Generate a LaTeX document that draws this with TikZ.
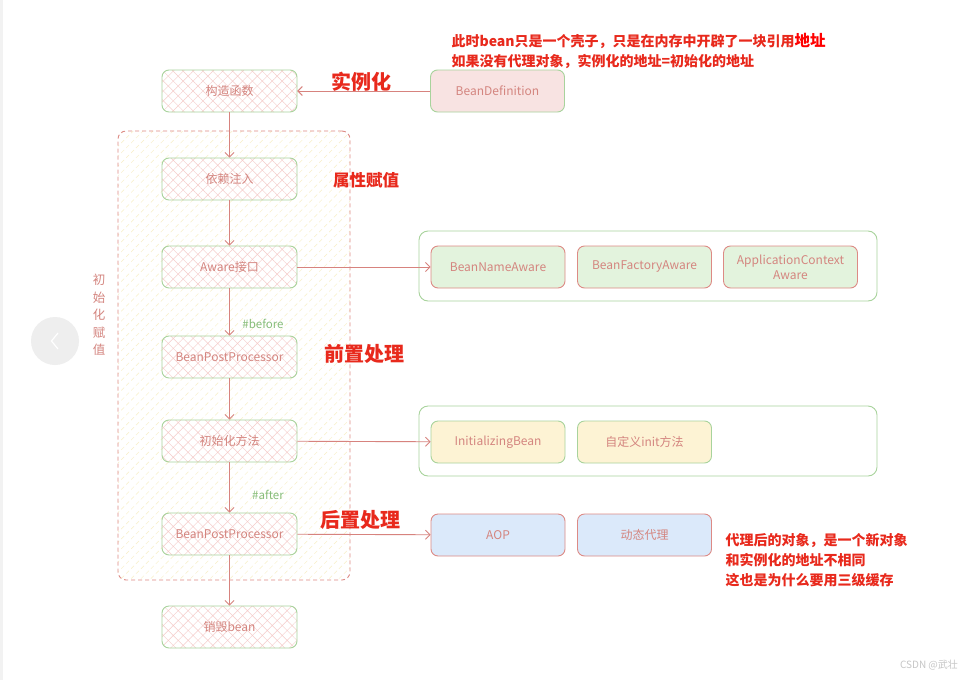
\documentclass[tikz,border=0pt]{standalone}
\usepackage{fontspec}
\setmainfont{Noto Sans CJK SC}
\usetikzlibrary{arrows.meta,patterns.meta,positioning}

\definecolor{bordoverde}{HTML}{A8D39C}
\definecolor{bordorosso}{HTML}{DD8A85}
\definecolor{testorosa}{HTML}{D4857F}
\definecolor{freccia}{HTML}{D7837E}
\definecolor{retinorosa}{HTML}{F5CCCA}
\definecolor{retinogiallo}{HTML}{F8EFC6}
\definecolor{rosso}{HTML}{E8291C}
\definecolor{verdetesto}{HTML}{86BD7A}
\definecolor{fondorosa}{HTML}{F8E3E2}
\definecolor{fondoverde}{HTML}{E3F3DD}
\definecolor{fondogiallo}{HTML}{FDF3D4}
\definecolor{fondoblu}{HTML}{DBE9FA}

\tikzset{
  passo/.style={draw=bordoverde, line width=0.9pt, rounded corners=7pt,
    minimum width=135pt, minimum height=42pt, preaction={fill=white},
    pattern={Hatch[angle=45,distance=7pt,line width=0.45pt]}, pattern color=retinorosa,
    text=testorosa, font=\fontsize{12}{13}\selectfont},
  scatola/.style={draw=#1, line width=0.9pt, rounded corners=7pt,
    minimum width=134pt, minimum height=42pt, text=testorosa,
    font=\fontsize{12}{13}\selectfont, align=center},
  gruppo/.style={draw=bordoverde, line width=0.9pt, rounded corners=9pt,
    minimum width=458pt, minimum height=70pt},
  freccina/.style={draw=freccia, line width=0.9pt, -{Straight Barb[length=4.5pt,width=9pt]}},
  fase/.style={text=rosso, font=\fontsize{20}{22}\selectfont\bfseries},
  nota/.style={text=rosso, font=\fontsize{14}{20}\selectfont\bfseries, align=left, anchor=north west},
  etichetta/.style={text=verdetesto, font=\fontsize{11.5}{12}\selectfont}
}

\begin{document}
\begin{tikzpicture}[x=1pt, y=-1pt]
  \useasboundingbox (0,0) rectangle (979,680);
  \fill[white] (0,0) rectangle (979,680);
  \fill[gray!10] (0,0) rectangle (2.5,680); % bordo sinistro

  % area tratteggiata dell'inizializzazione
  \node[draw=bordorosso, dashed, dash pattern=on 4pt off 3pt, line width=0.9pt, rounded corners=8pt,
    minimum width=232pt, minimum height=449pt,
    pattern={Lines[angle=45,distance=7pt,line width=0.45pt]}, pattern color=retinogiallo]
    (area) at (234,355.5) {};
  \node[text=testorosa, font=\fontsize{12.5}{17.5}\selectfont, align=center] (areatesto) at (99,315)
    {初\\始\\化\\赋\\值};

  % pulsante grigio del visualizzatore
  \node[circle, fill=gray!13, minimum size=48pt, inner sep=0pt] (bottone) at (55,341) {};
  \draw[white, line width=1.2pt] (58,333) -- (51.5,341) -- (58,349);

  % colonna principale
  \node[passo] (costr) at (229.5,91) {构造函数};
  \node[passo] (dip) at (229.5,179) {依赖注入};
  \node[passo] (aware) at (229.5,267) {Aware接口};
  \node[passo] (bpp1) at (229.5,357) {BeanPostProcessor};
  \node[passo] (init) at (229.5,441) {初始化方法};
  \node[passo] (bpp2) at (229.5,534) {BeanPostProcessor};
  \node[passo] (dist) at (229.5,627) {销毁bean};

  \foreach \a/\b in {costr/dip, dip/aware, aware/bpp1, bpp1/init, init/bpp2, bpp2/dist}
    \draw[freccina] (\a) -- (\b);

  \node[etichetta] (prima) at (263,324) {\#before};
  \node[etichetta] (dopo) at (268,495) {\#after};

  % definizione del bean
  \node[scatola=bordoverde, fill=fondorosa] (bdef) at (497.5,91) {BeanDefinition};
  \draw[freccina] (bdef) -- (costr);

  % gruppi a destra
  \node[gruppo] (gaware) at (648,266) {};
  \node[scatola=bordorosso, fill=fondoverde] (bna) at (498,267) {BeanNameAware};
  \node[scatola=bordorosso, fill=fondoverde] (bfa) at (644.5,267) {BeanFactoryAware};
  \node[scatola=bordorosso, fill=fondoverde, font=\fontsize{12}{15}\selectfont] (aca) at (790.5,267)
    {ApplicationContext\\Aware};
  \draw[freccina] (aware) -- (bna);

  \node[gruppo] (ginit) at (648,441) {};
  \node[scatola=bordoverde, fill=fondogiallo] (ibean) at (498,442) {InitializingBean};
  \node[scatola=bordoverde, fill=fondogiallo] (metodo) at (644.5,442) {自定义init方法};
  \draw[freccina] (init) -- (ibean);

  \node[scatola=bordorosso, fill=fondoblu] (aop) at (498,535) {AOP};
  \node[scatola=bordorosso, fill=fondoblu] (proxy) at (644.5,535) {动态代理};
  \draw[freccina] (bpp2) -- (aop);

  % nomi delle fasi
  \node[fase] (istanza) at (361,82) {实例化};
  \node[fase, font=\fontsize{16.5}{18}\selectfont\bfseries] (prop) at (366,180) {属性赋值};
  \node[fase] (pre) at (364,354) {前置处理};
  \node[fase] (post) at (360,520) {后置处理};

  % note
  \node[nota] (nota1) at (448,29.5)
    {此时bean只是一个壳子，只是在内存中开辟了一块引用{\color{red}\fontsize{15.5}{20}\selectfont 地址}\\
     如果没有代理对象，实例化的地址=初始化的地址};
  \node[nota] (nota2) at (722,530)
    {代理后的对象，是一个新对象\\和实例化的地址不相同\\这也是为什么要用三级缓存};

  \node[text=gray!45, font=\fontsize{10}{12}\selectfont] (firma) at (929,665) {CSDN @武壮};
\end{tikzpicture}
\end{document}
